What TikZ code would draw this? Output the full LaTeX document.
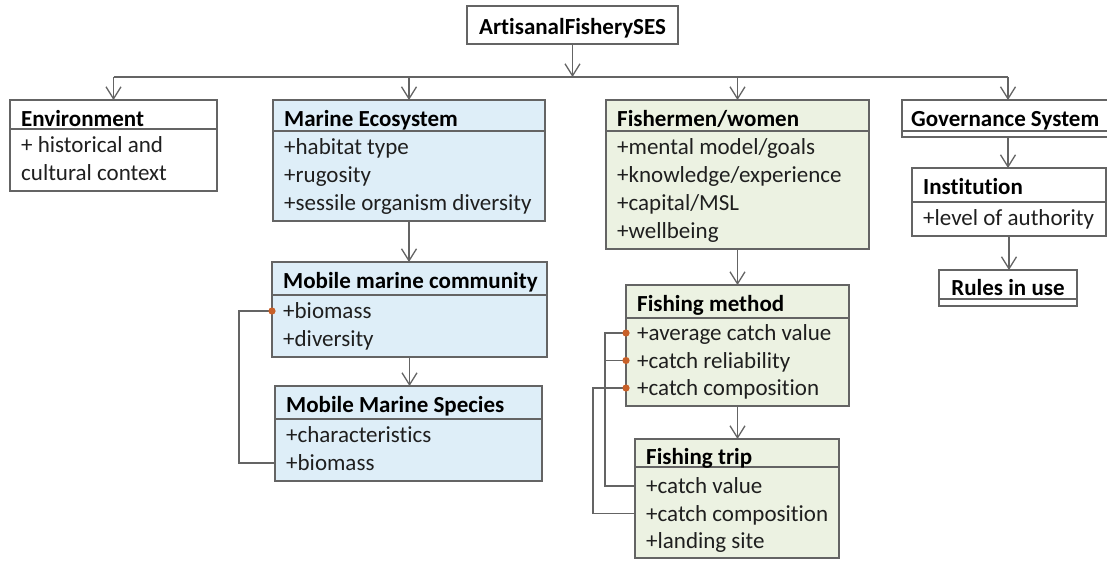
\documentclass[tikz,border=0pt]{standalone}
\usepackage{fontspec}
\setmainfont{Carlito}[Ligatures=NoCommon]
\usetikzlibrary{arrows.meta,calc}
\definecolor{lc}{RGB}{100,100,100}
\definecolor{blu}{RGB}{222,238,248}
\definecolor{grn}{RGB}{236,242,226}
\definecolor{dotc}{RGB}{200,96,40}
\tikzset{
 classbox/.style={draw=lc, line width=1.3pt, inner sep=0pt, outer sep=0pt, rectangle},
 clsttl/.style={font=\fontsize{23}{27}\selectfont\bfseries, inner sep=0pt, anchor=base west, text=black},
 clsattr/.style={font=\fontsize{23}{27}\selectfont, inner sep=0pt, anchor=base west, text=black!88},
 conn/.style={draw=lc, line width=1.3pt},
 arr/.style={conn, -{Straight Barb[length=12pt,width=15pt,line width=1.3pt]}},
 dotmark/.style={fill=dotc}
}
\newcommand{\umlclass}[9]{%
  \node[classbox, fill=#7, minimum width=#4, minimum height=#5+#6, anchor=north west] (#1) at (#2,#3) {};
  \draw[conn] ($(#1.north west)+(0,#5)$) -- ($(#1.north east)+(0,#5)$);
  \node[clsttl] (#1-t) at ($(#1.north west)+(11,\tbase)$) {#8};
  \foreach \l [count=\i] in {#9} {
    \coordinate (#1-c\i) at ($(#1.north west)+(0,{#5+\loff+(\i-1)*\lpitch})$);
    \node[clsattr] (#1-\i) at ($(#1-c\i)+(11,7.5)$) {\l};
  }
}
\begin{document}
\begin{tikzpicture}[x=1pt,y=-1pt]
\useasboundingbox (0,0) rectangle (1107,560);
\fill[white] (0,0) rectangle (1107,560);

% top
\node[classbox, fill=white, minimum width=211, minimum height=38, anchor=north west] (art) at (467,6) {};
\node[clsttl, anchor=base] (art-t) at ($(art.north)+(0,28.5)$) {ArtisanalFisherySES};

\def\lpitch{28}\def\loff{16}\def\tbase{26.5}
\umlclass{env}{10}{100}{207}{29}{62}{white}{Environment}{+ historical and,cultural context}
\umlclass{mar}{273}{100}{272}{31}{90}{blu}{Marine Ecosystem}{+habitat type,+rugosity,+sessile organism diversity}
\umlclass{fish}{606}{100}{263}{31}{118}{grn}{Fishermen/women}{+mental model/goals,+knowledge/experience,+capital/MSL,+wellbeing}
\umlclass{mob}{272}{262}{275}{33}{62}{blu}{Mobile marine community}{+biomass,+diversity}
\umlclass{sp}{275}{386}{267}{33}{62}{blu}{Mobile Marine Species}{+characteristics,+biomass}
\umlclass{inst}{912}{168}{194}{34}{34}{white}{Institution}{+level of authority}
\def\lpitch{27.5}\def\loff{15}
\umlclass{fm}{626}{285}{223}{33}{88}{grn}{Fishing method}{+average catch value,+catch reliability,+catch composition}
\def\loff{19}\def\tbase{25}
\umlclass{ft}{635}{439}{204}{28}{91}{grn}{Fishing trip}{+catch value,+catch composition,+landing site}

% governance
\node[classbox, fill=white, minimum width=212, minimum height=37, anchor=north west] (gov) at (902,100) {};
\draw[conn] ($(gov.north west)+(0,31)$) -- ($(gov.north east)+(0,31)$);
\node[clsttl] (gov-t) at ($(gov.north west)+(9,26.5)$) {Governance System};

% rules
\node[classbox, fill=white, minimum width=138, minimum height=36, anchor=north west] (rules) at (939,270) {};
\draw[conn] ($(rules.north west)+(0,29)$) -- ($(rules.north east)+(0,29)$);
\node[clsttl, anchor=base] (rules-t) at ($(rules.north)+(0,25.5)$) {Rules in use};

% tree connectors
\coordinate (bus) at (0,77);
\draw[arr] (art.south) -- (art.south |- bus);
\draw[conn] (env.north |- bus) -- (gov.north |- bus);
\draw[arr] (env.north |- bus) -- (env.north);
\draw[arr] (mar.north |- bus) -- (mar.north);
\draw[arr] (fish.north |- bus) -- (fish.north);
\draw[arr] (gov.north |- bus) -- (gov.north);
\draw[arr] (mar.south) -- (mar.south |- mob.north);
\draw[arr] (mob.south) -- (mob.south |- sp.north);
\draw[arr] (fish.south) -- (fish.south |- fm.north);
\draw[arr] (fm.south) -- (fm.south |- ft.north);
\draw[arr] (gov.south) -- (gov.south |- inst.north);
\draw[arr] (inst.south) -- (inst.south |- rules.north);

% attribute links
\draw[conn] (mob-c1) -- ++(-33,0) |- (sp-c2);
\draw[conn] (fm-c1) -- ++(-21,0) |- (ft-c1);
\draw[conn] (fm-c2) -- ++(-21,0);
\draw[conn] (fm-c3) -- ++(-33,0) |- (ft-c2);
\fill[dotmark] (mob-c1) circle (3.6pt);
\fill[dotmark] (fm-c1) circle (3.6pt);
\fill[dotmark] (fm-c2) circle (3.6pt);
\fill[dotmark] (fm-c3) circle (3.6pt);
\end{tikzpicture}
\end{document}
